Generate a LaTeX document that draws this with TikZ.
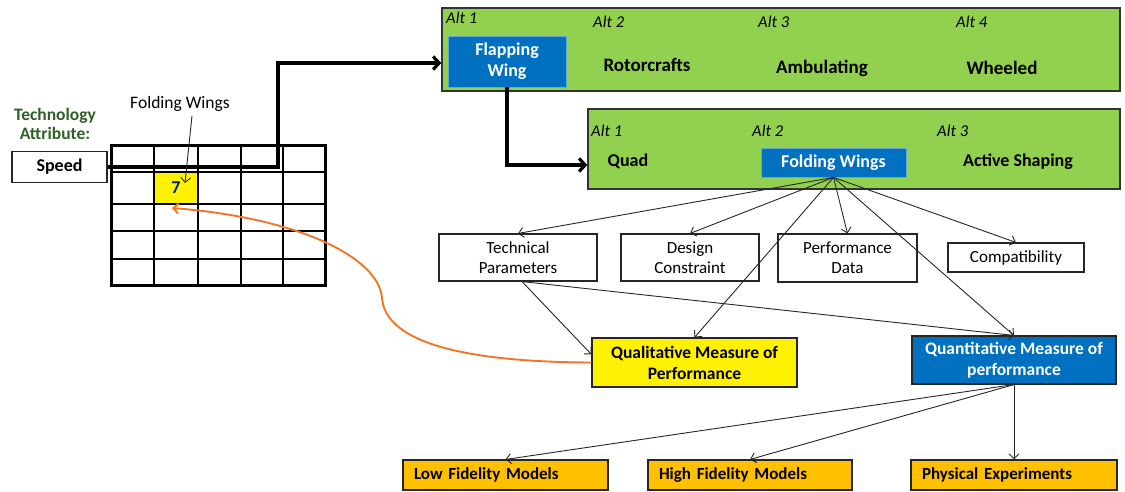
\documentclass[tikz,border=0pt]{standalone}
\usepackage{fontspec}
\setmainfont{Carlito}
\usetikzlibrary{arrows.meta}
\definecolor{bgreen}{RGB}{146,208,80}
\definecolor{oblue}{RGB}{0,112,192}
\definecolor{ygold}{RGB}{255,192,0}
\definecolor{dgreen}{RGB}{47,95,35}
\definecolor{navy}{RGB}{0,32,96}
\definecolor{orng}{RGB}{240,118,38}
\newcommand\fsz[2]{\fontsize{#1}{#2}\selectfont}
\begin{document}
\begin{tikzpicture}[x=1pt,y=-1pt,
  greenbox/.style={draw=black!80, line width=1.4pt, fill=bgreen, inner sep=0pt},
  bluebox/.style={draw=oblue!60!white, line width=0.8pt, fill=oblue, text=white, align=center, font=\bfseries\fsz{18}{21}, inner sep=0pt},
  wbox/.style={draw=black!85, line width=1.1pt, fill=white, align=center, font=\fsz{17}{20}, inner sep=0pt},
  ybox/.style={draw=black!85, line width=1.1pt, fill=yellow, align=center, font=\bfseries\fsz{17.5}{21}, inner sep=0pt},
  qbox/.style={draw=black!85, line width=1.1pt, fill=oblue, text=white, align=center, font=\bfseries\fsz{17.5}{21}, inner sep=0pt},
  gbox/.style={draw=black!85, line width=1.1pt, fill=ygold, align=left, font=\bfseries\fsz{17}{20}, inner xsep=11pt, inner ysep=0pt, minimum height=30pt},
  altlbl/.style={font=\itshape\fsz{16.5}{18}, anchor=west, inner sep=0pt},
  optlbl/.style={font=\bfseries\fsz{19}{21}, inner sep=0pt},
  thinarrow/.style={draw=black!85, line width=0.9pt, -{Straight Barb[length=5pt,width=10pt]}},
  thickarrow/.style={draw=black, line width=3.2pt, -{Straight Barb[length=6pt,width=13pt]}},
]
\useasboundingbox (0,0) rectangle (1125,491);

% top alternatives
\node[greenbox, minimum width=678pt, minimum height=83pt] (g1) at (781,49.5) {};
\node[bluebox, minimum width=118pt, minimum height=51pt] (fw1) at (507,61.5) {Flapping\\Wing};
\node[altlbl] (a11) at (446,18) {Alt 1};
\node[altlbl] (a12) at (593,22) {Alt 2};
\node[altlbl] (a13) at (758,22) {Alt 3};
\node[altlbl] (a14) at (956,22) {Alt 4};
\node[optlbl] (rot) at (647,65) {Rotorcrafts};
\node[optlbl] (amb) at (822,68) {Ambulating};
\node[optlbl] (whe) at (1002,68) {Wheeled};

% second alternatives
\node[greenbox, minimum width=532pt, minimum height=80pt] (g2) at (854,149) {};
\node[bluebox, minimum width=145pt, minimum height=29pt] (fw) at (833.5,162.5) {Folding Wings};
\node[altlbl] (a21) at (591,131) {Alt 1};
\node[altlbl] (a22) at (752,131) {Alt 2};
\node[altlbl] (a23) at (937,131) {Alt 3};
\node[optlbl, font=\bfseries\fsz{18}{20}] (quad) at (628,161) {Quad};
\node[optlbl, font=\bfseries\fsz{18}{20}] (act) at (1018,162) {Active Shaping};

% attribute boxes
\node[wbox, minimum width=158pt, minimum height=47pt] (tech) at (518,257.5) {Technical\\Parameters};
\node[wbox, minimum width=138pt, minimum height=47pt] (des) at (690,257.5) {Design\\Constraint};
\node[wbox, minimum width=139pt, minimum height=48pt] (perf) at (847.5,258) {Performance\\Data};
\node[wbox, minimum width=136pt, minimum height=29pt] (comp) at (1016,257.5) {Compatibility};

\node[ybox, minimum width=205pt, minimum height=49pt] (qual) at (694.5,362.5) {Qualitative Measure of\\Performance};
\node[qbox, minimum width=204pt, minimum height=48pt] (quant) at (1014,360) {Quantitative Measure of\\performance};

\node[gbox, text width=183pt] (low) at (505.5,475) {Low Fidelity Models};
\node[gbox, text width=182pt] (high) at (750,475) {High Fidelity Models};
\node[gbox, text width=184pt] (phys) at (1014,475) {Physical Experiments};

% left side
\node[font=\bfseries\fsz{17.5}{19}, text=dgreen, align=center, inner sep=0pt] (ta) at (55,123.5) {Technology\\Attribute:};
\node[font=\fsz{17.5}{19}, inner sep=0pt] (fwl) at (180,104) {Folding Wings};
\node[wbox, minimum width=95pt, minimum height=31pt, font=\bfseries\fsz{18}{20}] (speed) at (59.5,167) {Speed};

% grid
\node[fill=yellow, minimum width=44pt, minimum height=32pt, inner sep=0pt, font=\bfseries\fsz{18}{20}, text=navy] (cell) at (176,188) {7};
\foreach \x in {154,198,241,283} \draw[line width=1.2pt] (\x,145) -- (\x,285);
\foreach \y in {172,204,231,259} \draw[line width=1.2pt] (111,\y) -- (325,\y);
\draw[line width=3pt] (111,145) rectangle (325,285);

% thick connectors
\coordinate (bend) at (278,167);
\draw[thickarrow] (speed.east) -- (bend) |- ([yshift=-13.5pt]g1.west);
\draw[thickarrow] (fw1.south) |- ([yshift=-16pt]g2.west);

% folding wings label arrow
\coordinate (cellpt) at (185,183);
\draw[thinarrow] ([xshift=12pt,yshift=-4pt]fwl.south) -- (cellpt);

% orange feedback
\coordinate (celltgt) at (172,208);
\draw[draw=orng, line width=1.9pt, -{Straight Barb[length=5pt,width=10pt]}] (qual.west) .. controls (450,362) and (385,338) .. (382,298) .. controls (379,258) and (300,218) .. (celltgt);

% thin connectors
\foreach \t in {tech,des,perf,comp,qual,quant}
  \draw[thinarrow] (fw.south) -- (\t.north);
\draw[thinarrow] ([xshift=4pt]tech.south) -- ([yshift=-17pt]qual.north west);
\draw[thinarrow] ([xshift=4pt]tech.south) -- (quant.north);
\foreach \t in {low,high,phys}
  \draw[thinarrow] (quant.south) -- (\t.north);
\end{tikzpicture}
\end{document}
